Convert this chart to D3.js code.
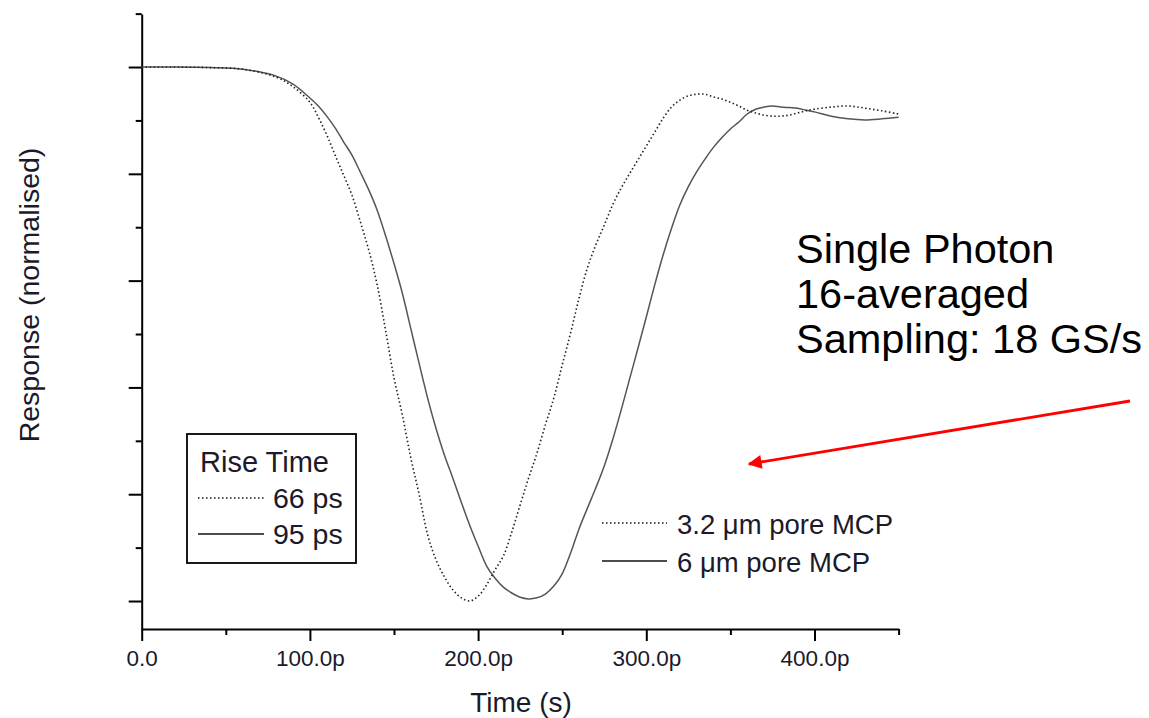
<!DOCTYPE html>
<html>
<head>
<meta charset="utf-8">
<script src="https://cdn.jsdelivr.net/npm/d3@7/dist/d3.min.js"></script>
<style>
    body { margin: 0; background: #fff; }
    svg { display: block; font-family: "Liberation Sans", Arial, sans-serif; }
</style>
</head>
<body>
<div id="chart"></div>
<script>
// Sample times in ps
const timePs = [
    0, 20, 40, 60, 80, 90, 100, 105, 110, 115,
    120, 125, 130, 135, 140, 145, 150, 155, 160, 165,
    170, 175, 180, 185, 190, 195, 200, 205, 210, 215,
    220, 225, 230, 235, 240, 245, 250, 255, 260, 265,
    270, 275, 280, 285, 290, 295, 300, 305, 310, 315,
    320, 325, 330, 335, 340, 345, 350, 355, 360, 365,
    370, 375, 380, 385, 390, 395, 400, 410, 420, 430,
    440, 450
];
// 3.2 um pore MCP (dotted, 66 ps rise time)
const pore32 = [
    0, 0, -0.001, -0.004, -0.019, -0.037, -0.066, -0.094, -0.127, -0.165,
    -0.202, -0.240, -0.290, -0.343, -0.408, -0.493, -0.582, -0.652, -0.732, -0.801,
    -0.876, -0.923, -0.955, -0.979, -0.994, -1.000, -0.991, -0.970, -0.942, -0.916,
    -0.871, -0.820, -0.770, -0.723, -0.670, -0.620, -0.558, -0.498, -0.433, -0.376,
    -0.333, -0.296, -0.258, -0.227, -0.200, -0.174, -0.148, -0.122, -0.096, -0.075,
    -0.062, -0.054, -0.051, -0.051, -0.056, -0.060, -0.066, -0.073, -0.081, -0.086,
    -0.090, -0.092, -0.092, -0.090, -0.086, -0.082, -0.079, -0.075, -0.073, -0.077,
    -0.082, -0.088
];
// 6 um pore MCP (solid, 95 ps rise time)
const pore6 = [
    0, 0, -0.001, -0.004, -0.017, -0.032, -0.058, -0.073, -0.092, -0.114,
    -0.140, -0.165, -0.197, -0.230, -0.268, -0.316, -0.368, -0.424, -0.490, -0.556,
    -0.620, -0.677, -0.727, -0.770, -0.815, -0.858, -0.897, -0.934, -0.957, -0.974,
    -0.985, -0.993, -0.996, -0.994, -0.987, -0.972, -0.949, -0.910, -0.865, -0.826,
    -0.788, -0.747, -0.698, -0.643, -0.585, -0.527, -0.468, -0.408, -0.352, -0.302,
    -0.258, -0.224, -0.196, -0.172, -0.150, -0.132, -0.116, -0.103, -0.088, -0.079,
    -0.075, -0.073, -0.075, -0.076, -0.077, -0.081, -0.084, -0.092, -0.097, -0.099,
    -0.097, -0.094
];

const xMajorTicks = [0, 100, 200, 300, 400];
const xMinorTicks = [50, 150, 250, 350, 450];
const xTickLabels = ["0.0", "100.0p", "200.0p", "300.0p", "400.0p"];
const yMajorTicks = [0, -0.2, -0.4, -0.6, -0.8, -1.0];
const yMinorTicks = [0.1, -0.1, -0.3, -0.5, -0.7, -0.9];

const riseLabels = ["66 ps", "95 ps"];
const poreLabels = ["3.2 \u03bcm pore MCP", "6 \u03bcm pore MCP"];
const noteLines = ["Single Photon", "16-averaged", "Sampling: 18 GS/s"];

const width = 1149, height = 718;

const svg = d3.select("#chart").append("svg")
    .attr("width", width)
    .attr("height", height);

// Scales
const x = d3.scaleLinear().domain([0, 450]).range([141.7, 898.6]);
const y = d3.scaleLinear().domain([-1.0524, 0.0993]).range([629, 14]);

// X axis: long ticks with labels, short minor ticks
const xAxis = svg.append("g").attr("transform", "translate(0,629)");
xAxis.call(d3.axisBottom(x).tickValues(xMajorTicks).tickSize(12).tickSizeOuter(0).tickPadding(9)
    .tickFormat((d, i) => xTickLabels[i]));
svg.append("g").attr("transform", "translate(0,629)")
    .call(d3.axisBottom(x).tickValues(xMinorTicks).tickSize(6).tickSizeOuter(0).tickFormat(""))
    .select(".domain").remove();
xAxis.selectAll("text").attr("font-size", 22.5).attr("fill", "#1a1a2a")
    .style("font-family", "'Liberation Sans', Arial, sans-serif");

// Y axis: no labels
const yAxis = svg.append("g").attr("transform", "translate(141.7,0)");
yAxis.call(d3.axisLeft(y).tickValues(yMajorTicks).tickSize(13).tickSizeOuter(0).tickFormat(""));
svg.append("g").attr("transform", "translate(141.7,0)")
    .call(d3.axisLeft(y).tickValues(yMinorTicks).tickSize(6).tickSizeOuter(0).tickFormat(""))
    .select(".domain").remove();

svg.selectAll(".domain, .tick line").attr("stroke", "#000").attr("stroke-width", 2);

// Curves
const line = d3.line()
    .x((d, i) => x(timePs[i]))
    .y(d => y(d))
    .curve(d3.curveCatmullRom);

svg.append("path")
    .attr("d", line(pore6))
    .attr("fill", "none")
    .attr("stroke", "#555")
    .attr("stroke-width", 1.5);

svg.append("path")
    .attr("d", line(pore32))
    .attr("fill", "none")
    .attr("stroke", "#222")
    .attr("stroke-width", 1.6)
    .attr("stroke-dasharray", "1.5 2.5");

// Axis titles
svg.append("text")
    .attr("x", 521).attr("y", 712)
    .attr("text-anchor", "middle")
    .attr("font-size", 28)
    .attr("fill", "#1a1a2a")
    .text("Time (s)");

svg.append("text")
    .attr("transform", "translate(39,295) rotate(-90)")
    .attr("text-anchor", "middle")
    .attr("font-size", 28.5)
    .attr("fill", "#1a1a2a")
    .text("Response (normalised)");

// Rise time legend box
svg.append("rect")
    .attr("x", 187).attr("y", 434)
    .attr("width", 169).attr("height", 129)
    .attr("fill", "none").attr("stroke", "#000").attr("stroke-width", 1.8);

svg.append("text")
    .attr("x", 200).attr("y", 472)
    .attr("font-size", 29).attr("fill", "#1a1a2a")
    .text("Rise Time");

const dashes = ["1.5 2.5", null];
riseLabels.forEach((label, i) => {
    const ly = 498 + i * 36;
    svg.append("line")
        .attr("x1", 198).attr("x2", 264).attr("y1", ly).attr("y2", ly)
        .attr("stroke", "#111").attr("stroke-width", 1.6)
        .attr("stroke-dasharray", dashes[i]);
    svg.append("text")
        .attr("x", 273).attr("y", ly + 10)
        .attr("font-size", 28.5).attr("fill", "#1a1a2a")
        .text(label);
});

// Pore size legend
poreLabels.forEach((label, i) => {
    const ly = 523 + i * 38;
    svg.append("line")
        .attr("x1", 602).attr("x2", 667).attr("y1", ly).attr("y2", ly)
        .attr("stroke", "#111").attr("stroke-width", 1.6)
        .attr("stroke-dasharray", dashes[i]);
    svg.append("text")
        .attr("x", 677).attr("y", ly + 11)
        .attr("font-size", 27.5).attr("fill", "#1a1a2a")
        .text(label);
});

// Annotation text
noteLines.forEach((t, i) => {
    svg.append("text")
        .attr("x", 796).attr("y", 263 + i * 45)
        .attr("font-size", 41.5)
        .attr("fill", "#000")
        .text(t);
});

// Red arrow
svg.append("defs").append("marker")
    .attr("id", "arrowhead")
    .attr("viewBox", "0 0 10 10")
    .attr("refX", 9).attr("refY", 5)
    .attr("markerWidth", 6).attr("markerHeight", 5)
    .attr("markerUnits", "strokeWidth")
    .attr("orient", "auto")
    .append("path")
    .attr("d", "M0,0 L10,5 L0,10 Z")
    .attr("fill", "#ff0000");

svg.append("line")
    .attr("x1", 1130).attr("y1", 401)
    .attr("x2", 749).attr("y2", 464)
    .attr("stroke", "#ff0000").attr("stroke-width", 2.8)
    .attr("marker-end", "url(#arrowhead)");
</script>
</body>
</html>
